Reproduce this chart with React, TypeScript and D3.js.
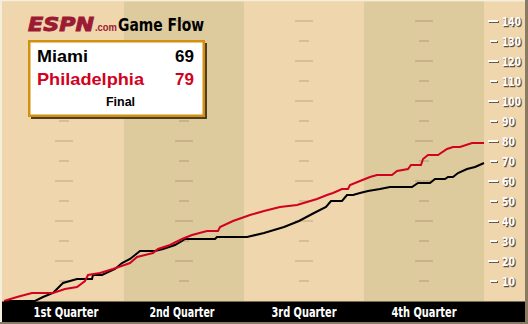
import * as d3 from 'd3';

// game time in minutes, running score
const phiMinutes = [0, 1.3, 2.8, 4.9, 6.1, 7.3, 8.1, 8.4, 9.6, 10.9, 12.6, 13.3, 14.9, 15.4, 16.6, 17.8, 18.8, 20.3, 21.4, 21.6, 22.9, 24.6, 26, 27.6, 29.3, 31.3, 32.3, 32.9, 33.8, 34.4, 34.6, 35.6, 36.6, 37.3, 38.8, 39.3, 40.4, 40.7, 41.7, 41.9, 42.4, 43.4, 44.3, 44.9, 45.6, 46.8, 48];
const phiScores = [0, 2, 4, 4, 6, 7, 10, 13, 14, 16, 19, 22, 24, 26, 28, 31, 33, 35, 35, 37, 40, 43, 45, 47, 48, 51, 53, 54, 56, 56, 58, 60, 62, 63, 63, 65, 66, 68, 68, 71, 73, 73, 76, 77, 77, 79, 79];
const miaMinutes = [0, 3.1, 3.9, 4.9, 5.9, 7.3, 8.8, 8.9, 9.8, 11.1, 11.8, 12.6, 13.1, 13.6, 15.1, 15.9, 17.1, 17.8, 18.1, 21.1, 21.3, 24.3, 26, 28, 29.5, 31, 32.2, 32.7, 33.8, 34.3, 34.9, 35.6, 36.4, 37.6, 38.6, 40.8, 41.4, 42.6, 43.1, 44.1, 44.4, 44.9, 45.4, 46.3, 47.1, 48];
const miaScores = [0, 0, 2, 4, 9, 11, 11, 13, 13, 16, 19, 21, 23, 25, 25, 26, 28, 30, 31, 31, 32, 32, 34, 37, 40, 44, 47, 50, 50, 53, 53, 54, 55, 56, 57, 57, 59, 59, 61, 61, 62, 62, 64, 66, 67, 69];

const quarters = ['1st Quarter', '2nd Quarter', '3rd Quarter', '4th Quarter'];
const yTicks = d3.range(10, 150, 10);
const teams = ['Miami', 'Philadelphia'];
const finals = [69, 79];

const LIGHT = '#efd6ad';
const DARK = '#ddcb9d';
const RED = '#d0021f';
const LOGO = '#9c1b34';
const narrow = '"Liberation Sans Narrow", "DejaVu Sans Condensed", "Liberation Sans", sans-serif';
const sans = '"Liberation Sans", Arial, sans-serif';

export default function App() {
  const x = d3.scaleLinear().domain([0, 48]).range([4, 484]);
  const y = d3.scaleLinear().domain([0, 140]).range([301, 21]);

  const line = d3
    .line<[number, number]>()
    .x((d) => x(d[0]))
    .y((d) => y(d[1]));

  const phi = phiMinutes.map((m, i) => [m, phiScores[i]] as [number, number]);
  const mia = miaMinutes.map((m, i) => [m, miaScores[i]] as [number, number]);

  return (
    <svg width={528} height={324} style={{ position: 'absolute', left: 0, top: 0 }}>
      {/* shadow + panel */}
      <rect x={0} y={0} width={528} height={324} fill="#8b7a62" />
      <rect x={0} y={0} width={525} height={322} fill={LIGHT} />
      <rect x={0} y={0} width={525} height={1.5} fill="#f6eedc" />
      <rect x={0} y={0} width={2} height={322} fill="#f6eedc" />

      {/* quarter bands */}
      {quarters.map((q, i) => (
        <rect
          key={q}
          x={i === 0 ? 2 : x(i * 12)}
          y={1.5}
          width={x((i + 1) * 12) - (i === 0 ? 2 : x(i * 12))}
          height={301 - 1.5}
          fill={i % 2 ? DARK : LIGHT}
        />
      ))}

      {/* grid dashes in the middle of each quarter */}
      {quarters.map((q, i) => {
        const cx = x(i * 12 + 6);
        return yTicks.map((t) => {
          const half = t % 20 === 0 ? 9 : 5;
          return (
            <line
              key={q + t}
              x1={cx - half}
              x2={cx + half}
              y1={y(t)}
              y2={y(t)}
              stroke={i % 2 ? '#c9b189' : '#d9bd95'}
              strokeWidth={2}
            />
          );
        });
      })}

      {/* score lines */}
      <path d={line(mia) || ''} fill="none" stroke="#000" strokeWidth={2} />
      <path d={line(phi) || ''} fill="none" stroke={RED} strokeWidth={2} />

      {/* right axis */}
      {yTicks.map((t) => {
        const major = t % 20 === 0;
        const x1 = major ? 488 : 490;
        const x2 = major ? 498 : 497;
        const len = t >= 100 ? 19 : 13;
        return (
          <g key={t}>
            <line x1={x1 + 1} x2={x2 + 1} y1={y(t) + 1} y2={y(t) + 1} stroke="#6b5a45" strokeWidth={2} />
            <line x1={x1} x2={x2} y1={y(t)} y2={y(t)} stroke="#fff" strokeWidth={2} />
            <text x={503} y={y(t) + 5.5} fontFamily={narrow} fontWeight="bold" fontSize={12.5} fill="#5e4d3a" stroke="#5e4d3a" strokeWidth={0.4} textLength={len} lengthAdjust="spacingAndGlyphs">
              {t}
            </text>
            <text x={502} y={y(t) + 4.5} fontFamily={narrow} fontWeight="bold" fontSize={12.5} fill="#fff" textLength={len} lengthAdjust="spacingAndGlyphs">
              {t}
            </text>
          </g>
        );
      })}

      {/* bottom quarter strip */}
      <rect x={2} y={301.5} width={523} height={20.5} fill="#000" />
      {quarters.map((q, i) => (
        <text
          key={q}
          x={x(i * 12 + 6) + (i === 0 ? 2 : i === 1 ? -2 : 0)}
          y={317}
          textAnchor="middle"
          fontFamily={narrow}
          fontWeight="bold"
          fontSize={14}
          fill="#fff"
          textLength={65}
          lengthAdjust="spacingAndGlyphs"
        >
          {q}
        </text>
      ))}

      {/* title */}
      <text x={28} y={31} fontFamily={'"DejaVu Sans", sans-serif'} fontWeight="bold" fontStyle="italic" fontSize={20} fill={LOGO} stroke={LOGO} strokeWidth={1} textLength={66} lengthAdjust="spacingAndGlyphs">
        ESPN
      </text>
      <text x={95} y={31} fontFamily={sans} fontWeight="bold" fontSize={10.5} fill={LOGO} textLength={22} lengthAdjust="spacingAndGlyphs">
        .com
      </text>
      <text x={118} y={31} fontFamily={narrow} fontWeight="bold" fontSize={17} fill="#000" textLength={86} lengthAdjust="spacingAndGlyphs">
        Game Flow
      </text>

      {/* score box */}
      <rect x={31} y={43} width={176} height={76} fill="#4c3c28" />
      <rect x={29.25} y={41.25} width={174.5} height={74.5} fill="#fff" stroke="#d3900f" strokeWidth={2.5} />
      {teams.map((t, i) => (
        <g key={t}>
          <text
            x={37}
            y={62 + i * 23}
            fontFamily={sans}
            fontWeight="bold"
            fontSize={17}
            fill={i ? RED : '#000'}
            textLength={i ? 107 : 51}
            lengthAdjust="spacingAndGlyphs"
          >
            {t}
          </text>
          <text x={194} y={62 + i * 23} textAnchor="end" fontFamily={sans} fontWeight="bold" fontSize={17} fill={i ? RED : '#000'}>
            {finals[i]}
          </text>
        </g>
      ))}
      <text x={120.5} y={106} textAnchor="middle" fontFamily={sans} fontWeight="bold" fontSize={12.5} fill="#000">
        Final
      </text>
    </svg>
  );
}
